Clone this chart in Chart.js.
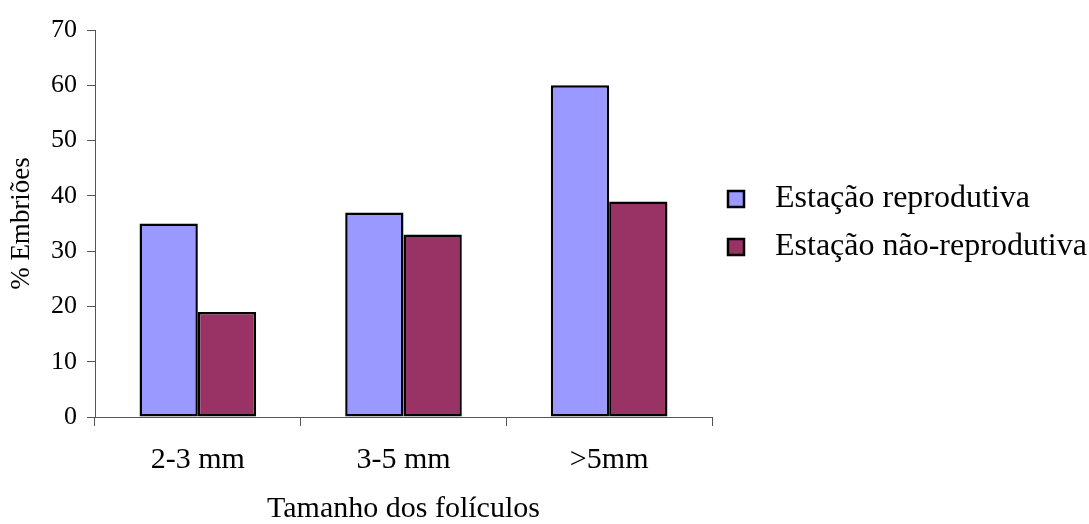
<!DOCTYPE html>
<html lang="pt">
<head>
  <meta charset="UTF-8">
  <title>Embriões por tamanho dos folículos</title>
  <script src="https://cdn.jsdelivr.net/npm/chart.js"></script>
  <style>
    html, body { margin: 0; padding: 0; background: #fff; }
    #wrap { width: 1089px; height: 524px; position: relative; }
  </style>
</head>
<body>
  <div id="wrap">
    <canvas id="grafico" width="1089" height="524"></canvas>
  </div>

<script>
  // dados
  const categorias = ['2-3 mm', '3-5 mm', '>5mm'];
  const estacaoReprodutiva = [35, 37, 60];
  const estacaoNaoReprodutiva = [19, 33, 39];
  const nomesSeries = ['Estação reprodutiva', 'Estação não-reprodutiva'];
  const coresSeries = ['#9999FF', '#993366'];
  const ticksY = [0, 10, 20, 30, 40, 50, 60, 70];

  const fonte = 'Liberation Serif, Times New Roman, serif';
  const corEixo = '#555555';

  // legenda desenhada à direita, fora da área do gráfico
  const legendaLateral = {
    id: 'legendaLateral',
    afterDraw(chart) {
      const ctx = chart.ctx;
      const posicoes = [199, 247];
      ctx.save();
      ctx.font = '32px ' + fonte;
      ctx.textBaseline = 'middle';
      ctx.textAlign = 'left';
      chart.data.datasets.forEach((ds, i) => {
        const y = posicoes[i];
        ctx.fillStyle = ds.backgroundColor;
        ctx.fillRect(728, y - 8, 16, 16);
        ctx.lineWidth = 2.5;
        ctx.strokeStyle = '#000';
        ctx.strokeRect(728, y - 8, 16, 16);
        ctx.fillStyle = '#000';
        ctx.fillText(ds.label, 775, y);
      });
      ctx.restore();
    }
  };

  const ctx = document.getElementById('grafico');
  new Chart(ctx, {
    type: 'bar',
    data: {
      labels: categorias,
      datasets: [{
        label: nomesSeries[0],
        data: estacaoReprodutiva,
        backgroundColor: coresSeries[0],
        borderColor: '#000',
        borderWidth: 2.5,
        borderSkipped: false
      }, {
        label: nomesSeries[1],
        data: estacaoNaoReprodutiva,
        backgroundColor: coresSeries[1],
        borderColor: '#000',
        borderWidth: 2.5,
        borderSkipped: false
      }]
    },
    options: {
      responsive: false,
      animation: false,
      events: [],
      categoryPercentage: 0.567,
      barPercentage: 1,
      layout: {
        padding: { top: 30, right: 377, bottom: 0, left: 0 }
      },
      plugins: {
        legend: { display: false },
        tooltip: { enabled: false }
      },
      scales: {
        x: {
          afterFit(scale) { scale.height = 107; },
          border: { display: true, color: corEixo, width: 1 },
          grid: {
            offset: true,
            drawOnChartArea: false,
            drawTicks: true,
            tickLength: 9,
            color: corEixo
          },
          ticks: {
            color: '#000',
            padding: 16,
            font: { family: fonte, size: 30 }
          },
          title: {
            display: true,
            text: 'Tamanho dos folículos',
            color: '#000',
            padding: 0,
            font: { family: fonte, size: 30, lineHeight: 1 }
          }
        },
        y: {
          min: 0,
          max: 70,
          afterFit(scale) { scale.width = 95; },
          afterBuildTicks(scale) {
            scale.ticks = ticksY.map(v => ({ value: v }));
          },
          border: { display: true, color: corEixo, width: 1 },
          grid: {
            drawOnChartArea: false,
            drawTicks: true,
            tickLength: 8,
            color: corEixo
          },
          ticks: {
            color: '#000',
            padding: 10,
            font: { family: fonte, size: 26 }
          },
          title: {
            display: true,
            text: '% Embriões',
            color: '#000',
            padding: { top: 6, bottom: 0 },
            font: { family: fonte, size: 27 }
          }
        }
      }
    },
    plugins: [legendaLateral]
  });
</script>
</body>
</html>
